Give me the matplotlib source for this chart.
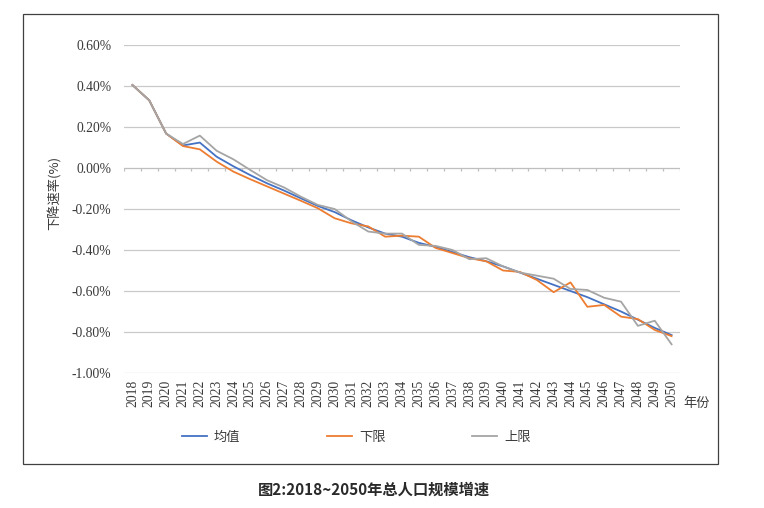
import matplotlib
matplotlib.use("Agg")
import matplotlib.pyplot as plt
from matplotlib.patches import Rectangle
import numpy as np

years = list(range(2018, 2051))
mean_vals = [0.405, 0.33, 0.168, 0.11, 0.124, 0.055, 0.008, -0.035, -0.075, -0.11,
             -0.148, -0.185, -0.215, -0.255, -0.29, -0.32, -0.335, -0.365, -0.385, -0.41,
             -0.435, -0.455, -0.48, -0.51, -0.54, -0.57, -0.60, -0.63, -0.665, -0.70,
             -0.74, -0.78, -0.815]
lower_vals = [0.405, 0.33, 0.168, 0.107, 0.091, 0.031, -0.018, -0.055, -0.09, -0.125,
              -0.16, -0.196, -0.245, -0.27, -0.285, -0.335, -0.33, -0.335, -0.39, -0.415,
              -0.44, -0.455, -0.50, -0.507, -0.546, -0.606, -0.558, -0.677, -0.668, -0.725,
              -0.737, -0.79, -0.82]
upper_vals = [0.405, 0.33, 0.168, 0.117, 0.158, 0.084, 0.042, -0.01, -0.06, -0.095,
              -0.14, -0.18, -0.20, -0.26, -0.31, -0.32, -0.32, -0.375, -0.38, -0.40,
              -0.445, -0.44, -0.48, -0.51, -0.525, -0.54, -0.59, -0.595, -0.633, -0.652,
              -0.77, -0.745, -0.86]
yticks = [0.6, 0.4, 0.2, 0.0, -0.2, -0.4, -0.6, -0.8, -1.0]
series_names = ["均值", "下限", "上限"]
colors = ["#4472C4", "#ED7D31", "#A5A5A5"]

CJK = ["Noto Sans CJK SC", "DejaVu Sans"]
SERIF = ["Liberation Serif", "DejaVu Serif"]
txt = "#3a3a3a"

fig = plt.figure(figsize=(7.64, 5.08), dpi=100)
fig.patches.append(Rectangle((23/764, 1-464/508), 695/764, 450/508,
                             transform=fig.transFigure, fill=False,
                             edgecolor="#404040", linewidth=0.9))

ax = fig.add_axes([124/764, 1-373/508, 556/764, 328/508])
x = np.arange(len(years))
for vals, name, c in zip([mean_vals, lower_vals, upper_vals], series_names, colors):
    ax.plot(x, vals, color=c, lw=1.3, label=name, zorder=3)

ax.set_xlim(-0.5, len(years) - 0.5)
ax.set_ylim(-1.0, 0.6)
ax.set_yticks(yticks)
ax.set_yticklabels([f"{v:.2f}%" for v in yticks], fontfamily=SERIF, fontsize=9.8, color=txt)
for v in yticks:
    if v != 0:
        ax.axhline(v, color="#c9c9c9", lw=0.9, zorder=1)
ax.axhline(0, color="#bfbfbf", lw=0.9, zorder=2)
bounds = np.arange(len(years) + 1) - 0.5
ax.vlines(bounds, -0.013, 0, color="#bfbfbf", lw=0.9, zorder=2)

ax.set_xticks(x)
ax.set_xticklabels([str(y) for y in years], rotation=90, fontfamily=SERIF,
                   fontsize=9.8, color=txt)
ax.tick_params(axis="x", length=0, pad=5)
ax.tick_params(axis="y", length=0, pad=9)
for s in ax.spines.values():
    s.set_visible(False)

fig.text(55/764, 1-193/508, "下降速率(%)", rotation=90, ha="center", va="center",
         fontfamily=CJK, fontsize=9.5, color=txt)
fig.text(683/764, 1-404/508, "年份", ha="left", va="center",
         fontfamily=CJK, fontsize=9.5, color=txt)

leg = ax.legend(loc="center left", bbox_to_anchor=(181.7/764, 1-437/508),
                bbox_transform=fig.transFigure, ncol=3, frameon=False,
                prop={"family": CJK, "size": 9.5}, handlelength=1.9,
                handletextpad=0.55, columnspacing=6.55, borderpad=0, borderaxespad=0)
for t in leg.get_texts():
    t.set_color(txt)

fig.text(374/764, 1-490/508, "图2:2018~2050年总人口规模增速", ha="center", va="center",
         fontfamily=CJK, fontsize=11, fontweight="bold", color="#2a2a2a")

fig.savefig("out.png", dpi=100)
